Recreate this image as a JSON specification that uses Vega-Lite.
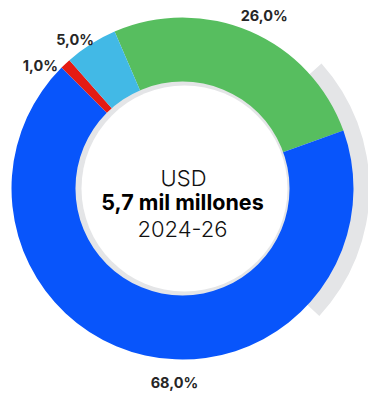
{
  "$schema": "https://vega.github.io/schema/vega-lite/v6.json",
  "width": 368,
  "height": 394,
  "padding": 0,
  "autosize": {"type": "fit", "contains": "padding"},
  "background": "white",
  "view": {"stroke": null},
  "datasets": {
    "segmentos": [
      {"categoria": "Verde", "valor": 26, "orden": 1, "etiqueta": "26,0%"},
      {"categoria": "Azul", "valor": 68, "orden": 2, "etiqueta": "68,0%"},
      {"categoria": "Rojo", "valor": 1, "orden": 3, "etiqueta": "1,0%"},
      {"categoria": "Celeste", "valor": 5, "orden": 4, "etiqueta": "5,0%"}
    ]
  },
  "data": {"name": "segmentos"},
  "layer": [
    {
      "data": {"values": [{}]},
      "mark": {"type": "arc", "theta": 0.838, "theta2": 2.321, "radius": 187, "radius2": 150, "color": "#e4e5e7"},
      "encoding": {}
    },
    {
      "mark": {"type": "arc", "radius": 171, "radius2": 106},
      "encoding": {
        "theta": {"field": "valor", "type": "quantitative", "stack": true, "scale": {"range": [-0.4084, 5.8748]}},
        "order": {"field": "orden", "type": "quantitative"},
        "color": {
          "field": "categoria", "type": "nominal", "legend": null,
          "scale": {"domain": ["Verde", "Azul", "Rojo", "Celeste"], "range": ["#57be5f", "#0855fb", "#e41b13", "#42b9e6"]}
        }
      }
    },
    {
      "data": {"values": [{}]},
      "mark": {"type": "arc", "theta": 0, "theta2": 6.2832, "radius": 107, "color": "#e4e5e7"},
      "encoding": {}
    },
    {
      "data": {"values": [{}]},
      "mark": {"type": "arc", "theta": 0, "theta2": 6.2832, "radius": 103, "color": "#ffffff", "xOffset": 2},
      "encoding": {}
    },
    {
      "mark": {"type": "text", "radius": 193, "font": "Inter", "fontSize": 14.5, "fontWeight": "bold", "color": "#262626", "dx": 5, "dy": 6},
      "encoding": {
        "theta": {"field": "valor", "type": "quantitative", "stack": true},
        "order": {"field": "orden", "type": "quantitative"},
        "text": {"condition": {"test": "datum.orden === 1", "field": "etiqueta"}, "value": ""}
      }
    },
    {
      "mark": {"type": "text", "radius": 193, "font": "Inter", "fontSize": 14.5, "fontWeight": "bold", "color": "#262626", "dx": 34, "dy": 7},
      "encoding": {
        "theta": {"field": "valor", "type": "quantitative", "stack": true},
        "order": {"field": "orden", "type": "quantitative"},
        "text": {"condition": {"test": "datum.orden === 2", "field": "etiqueta"}, "value": ""}
      }
    },
    {
      "mark": {"type": "text", "radius": 193, "font": "Inter", "fontSize": 14.5, "fontWeight": "bold", "color": "#262626", "dx": -10, "dy": 19},
      "encoding": {
        "theta": {"field": "valor", "type": "quantitative", "stack": true},
        "order": {"field": "orden", "type": "quantitative"},
        "text": {"condition": {"test": "datum.orden === 3", "field": "etiqueta"}, "value": ""}
      }
    },
    {
      "mark": {"type": "text", "radius": 193, "font": "Inter", "fontSize": 14.5, "fontWeight": "bold", "color": "#262626", "dx": -4, "dy": 15},
      "encoding": {
        "theta": {"field": "valor", "type": "quantitative", "stack": true},
        "order": {"field": "orden", "type": "quantitative"},
        "text": {"condition": {"test": "datum.orden === 4", "field": "etiqueta"}, "value": ""}
      }
    },
    {
      "data": {"values": [{"t": "USD"}]},
      "mark": {"type": "text", "font": "Inter", "fontSize": 22, "fontWeight": 300, "color": "#111111", "dy": -10, "dx": 1},
      "encoding": {"text": {"field": "t"}}
    },
    {
      "data": {"values": [{"t": "5,7 mil millones"}]},
      "mark": {"type": "text", "font": "Inter", "fontSize": 21.5, "fontWeight": "bold", "color": "#000000", "dy": 15, "dx": 0},
      "encoding": {"text": {"field": "t"}}
    },
    {
      "data": {"values": [{"t": "2024-26"}]},
      "mark": {"type": "text", "font": "Inter", "fontSize": 22, "fontWeight": 300, "color": "#111111", "dy": 41, "dx": 0},
      "encoding": {"text": {"field": "t"}}
    }
  ]
}
